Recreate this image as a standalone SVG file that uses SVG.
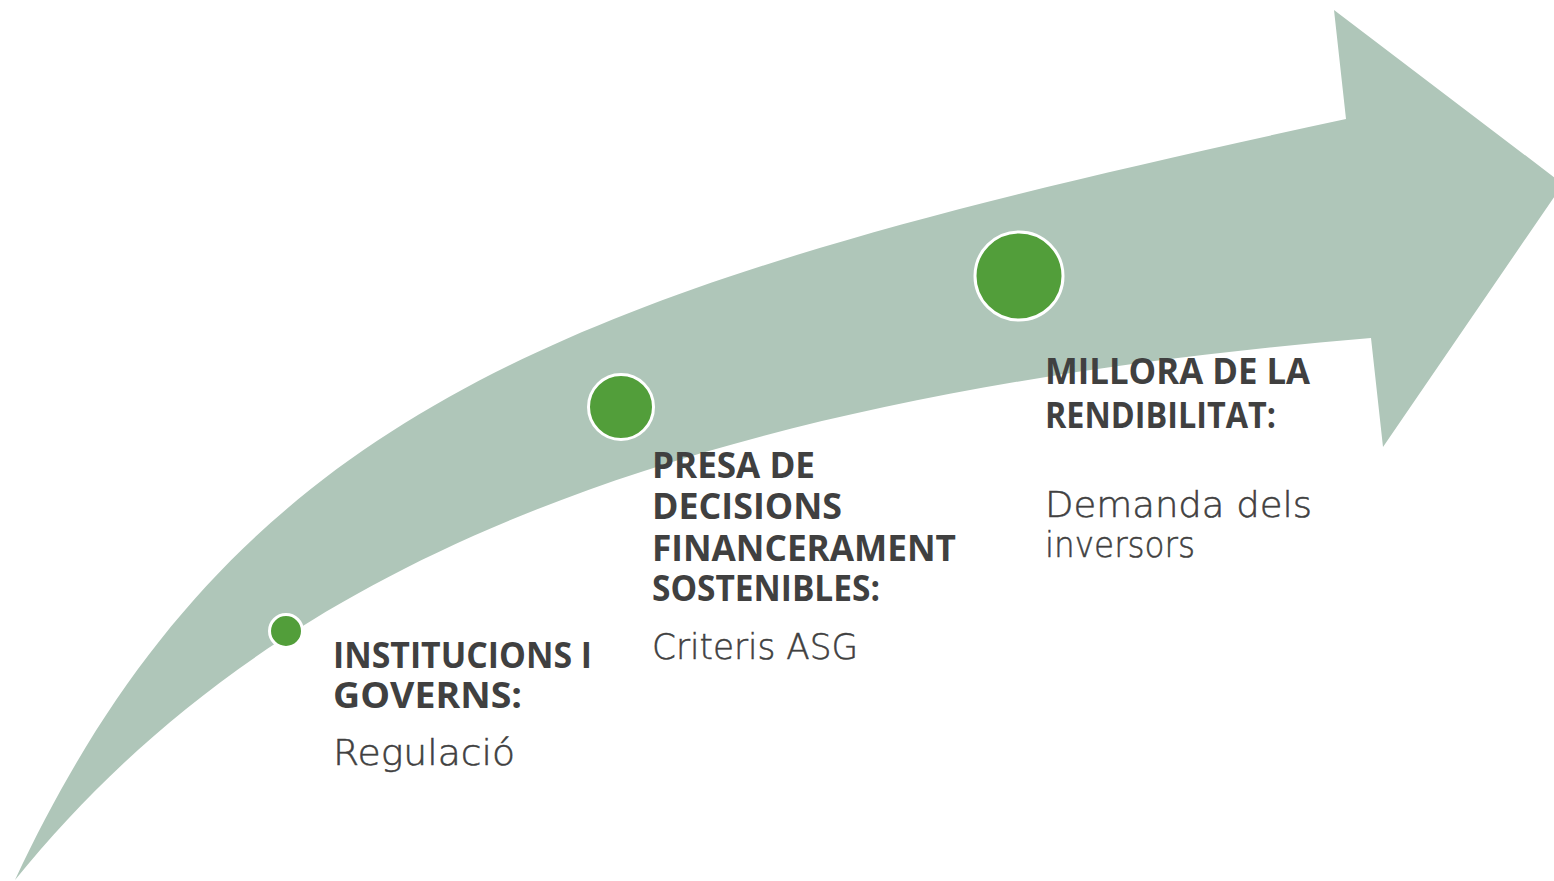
<svg xmlns="http://www.w3.org/2000/svg" width="1554" height="881" viewBox="0 0 1554 881">
<style>
.arrow{fill:#AFC6B9}
.dot{fill:#529E3A;stroke:#FFFFFF;stroke-width:3}
.h{font-family:"Open Sans","Liberation Sans",sans-serif;font-weight:bold;font-size:35px;fill:#404040}
.b{font-family:"DejaVu Sans","Liberation Sans",sans-serif;font-weight:200;font-size:35px;fill:#404040;stroke:#404040;stroke-width:0.5}
</style>
<rect width="1554" height="881" fill="#FFFFFF"/>
<g id="arrow">
<path class="arrow" d="M15,880 C242,394 594,282 1346,119 L1334,10 L1563,184 L1383,447 L1371,338 C591,404 237,607 15,880 Z"/>
</g>
<g id="connectors"></g>
<g id="node1">
<circle class="dot" cx="286" cy="631" r="16.5"/>
<text class="h" x="333" y="668" textLength="259" lengthAdjust="spacingAndGlyphs">INSTITUCIONS I</text>
<text class="h" x="333" y="708" textLength="189" lengthAdjust="spacingAndGlyphs">GOVERNS:</text>
<text class="b" x="333" y="765" textLength="182" lengthAdjust="spacingAndGlyphs">Regulació</text>
</g>
<g id="node2">
<circle class="dot" cx="621" cy="407" r="32.5"/>
<text class="h" x="652" y="478" textLength="163" lengthAdjust="spacingAndGlyphs">PRESA DE</text>
<text class="h" x="652" y="519" textLength="190" lengthAdjust="spacingAndGlyphs">DECISIONS</text>
<text class="h" x="652" y="561" textLength="304" lengthAdjust="spacingAndGlyphs">FINANCERAMENT</text>
<text class="h" x="652" y="601" textLength="228" lengthAdjust="spacingAndGlyphs">SOSTENIBLES:</text>
<text class="b" x="652" y="659" textLength="206" lengthAdjust="spacingAndGlyphs">Criteris ASG</text>
</g>
<g id="node3">
<circle class="dot" cx="1019" cy="276" r="44"/>
<text class="h" x="1045" y="384" textLength="265" lengthAdjust="spacingAndGlyphs">MILLORA DE LA</text>
<text class="h" x="1045" y="428" textLength="231" lengthAdjust="spacingAndGlyphs">RENDIBILITAT:</text>
<text class="b" x="1045" y="517" textLength="267" lengthAdjust="spacingAndGlyphs">Demanda dels</text>
<text class="b" x="1045" y="557" textLength="150" lengthAdjust="spacingAndGlyphs">inversors</text>
</g>
</svg>
